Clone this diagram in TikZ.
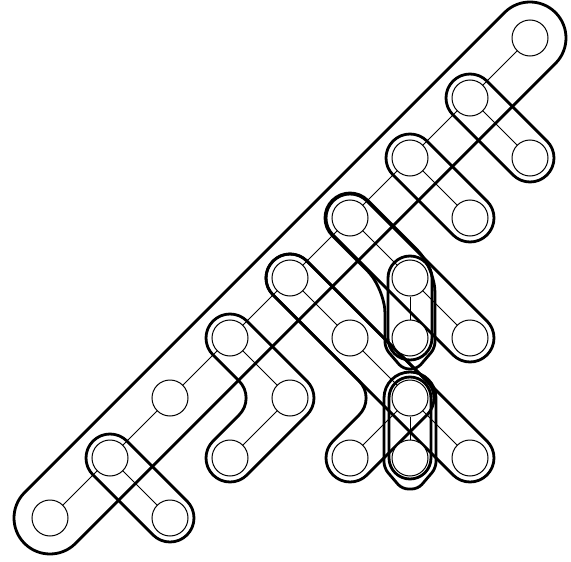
\documentclass[tikz,border=0pt]{standalone}
\usetikzlibrary{calc}
\begin{document}
\begin{tikzpicture}[x=1pt,y=-1pt,
  vtx/.style={circle,draw,line width=1pt,fill=white,minimum size=36pt,inner sep=0pt},
  edge/.style={line width=0.9pt},
  hull/.style={line width=2.8pt,line cap=round,line join=round}]
\useasboundingbox (0,0) rectangle (571,562);
% positions
\coordinate (A0) at (50,518);
\coordinate (A1) at (110,458);
\coordinate (A2) at (170,398);
\coordinate (A3) at (230,338);
\coordinate (A4) at (290,278);
\coordinate (A5) at (350,218);
\coordinate (A6) at (410,158);
\coordinate (A7) at (470,98);
\coordinate (A8) at (530,38);
\coordinate (B1) at (170,518);
\coordinate (C) at (290,398);
\coordinate (D) at (230,458);
\coordinate (E) at (350,338);
\coordinate (F) at (410,398);
\coordinate (L) at (350,458);
\coordinate (M) at (410,458);
\coordinate (N) at (470,458);
\coordinate (G) at (410,278);
\coordinate (H) at (410,338);
\coordinate (I) at (470,338);
\coordinate (J) at (470,218);
\coordinate (K) at (530,158);
% hulls
\def\s{33.94}
\draw[hull,rounded corners=36pt] ($(A0)+(0,50.91)$) -- ($(A8)+(50.91,0)$) -- ($(A8)+(0,-50.91)$) -- ($(A0)+(-50.91,0)$) -- cycle;
\draw[hull,rounded corners=24pt] ($(A1)+(0,-\s)$) -- ($(B1)+(\s,0)$) -- ($(B1)+(0,\s)$) -- ($(A1)+(-\s,0)$) -- cycle;
\draw[hull,rounded corners=24pt] ($(A6)+(0,-\s)$) -- ($(J)+(\s,0)$) -- ($(J)+(0,\s)$) -- ($(A6)+(-\s,0)$) -- cycle;
\draw[hull,rounded corners=24pt] ($(A7)+(0,-\s)$) -- ($(K)+(\s,0)$) -- ($(K)+(0,\s)$) -- ($(A7)+(-\s,0)$) -- cycle;
\draw[hull,rounded corners=24pt] ($(A3)+(0,-\s)$) -- ($(C)+(\s,0)$) -- ($(D)+(0,\s)$) -- ($(D)+(-\s,0)$) -- ($(C)+(-\s,0)$) -- ($(A3)+(-\s,0)$) -- cycle;
\draw[hull,rounded corners=24pt] ($(A4)+(0,-\s)$) -- ($(F)+(\s,0)$) -- ($(L)+(0,\s)$) -- ($(L)+(-\s,0)$) -- ($(F)+(-\s,0)$) -- ($(A4)+(-\s,0)$) -- cycle;
\draw[hull,rounded corners=24pt] ($(A4)+(0,-\s)$) -- ($(N)+(\s,0)$) -- ($(N)+(0,\s)$) -- ($(A4)+(-\s,0)$) -- cycle;
\draw[hull,rounded corners=24pt] ($(A5)+(0,-\s)$) -- ($(I)+(\s,0)$) -- ($(I)+(0,\s)$) -- ($(A5)+(-\s,0)$) -- cycle;
% bent hull A5-G-H (diagonal then vertical, chamfered end)
\draw[hull,rounded corners=25pt] ($(H)+(-25,0)$) -- ($(G)+(-25,10.36)$) -- ($(A5)+(-35.36,0)$) -- ($(A5)+(0,-35.36)$) -- ($(G)+(25,-10.36)$) -- ($(H)+(25,0)$);
\draw[hull,rounded corners=6pt] ($(H)+(25,0)$) -- ($(H)+(25,10)$) -- ($(H)+(7,31)$) -- ($(H)+(-7,31)$) -- ($(H)+(-25,10)$) -- ($(H)+(-25,0)$);
% wide vertical hull F-M with chamfered end
\draw[hull,rounded corners=26pt] ($(M)+(-26,0)$) -- ($(F)+(-26,-26)$) -- ($(F)+(26,-26)$) -- ($(M)+(26,0)$);
\draw[hull,rounded corners=6pt] ($(M)+(26,0)$) -- ($(M)+(26,10)$) -- ($(M)+(8,31)$) -- ($(M)+(-8,31)$) -- ($(M)+(-26,10)$) -- ($(M)+(-26,0)$);
% vertical stadiums
\draw[hull,rounded corners=22pt] ($(G)+(22,-22)$) -- ($(H)+(22,22)$) -- ($(H)+(-22,22)$) -- ($(G)+(-22,-22)$) -- cycle;
\draw[hull,rounded corners=21pt] ($(F)+(21,-21)$) -- ($(M)+(21,21)$) -- ($(M)+(-21,21)$) -- ($(F)+(-21,-21)$) -- cycle;
% vertices
\foreach \n in {A0,A1,A2,A3,A4,A5,A6,A7,A8,B1,C,D,E,F,L,M,N,G,H,I,J,K}
  \node[vtx] (v\n) at (\n) {};
% edges
\foreach \a/\b in {A0/A1,A1/A2,A2/A3,A3/A4,A4/A5,A5/A6,A6/A7,A7/A8,A1/B1,A3/C,C/D,A4/E,E/F,F/L,F/M,F/N,A5/G,G/H,G/I,A6/J,A7/K}
  \draw[edge] (v\a) -- (v\b);
\end{tikzpicture}
\end{document}
